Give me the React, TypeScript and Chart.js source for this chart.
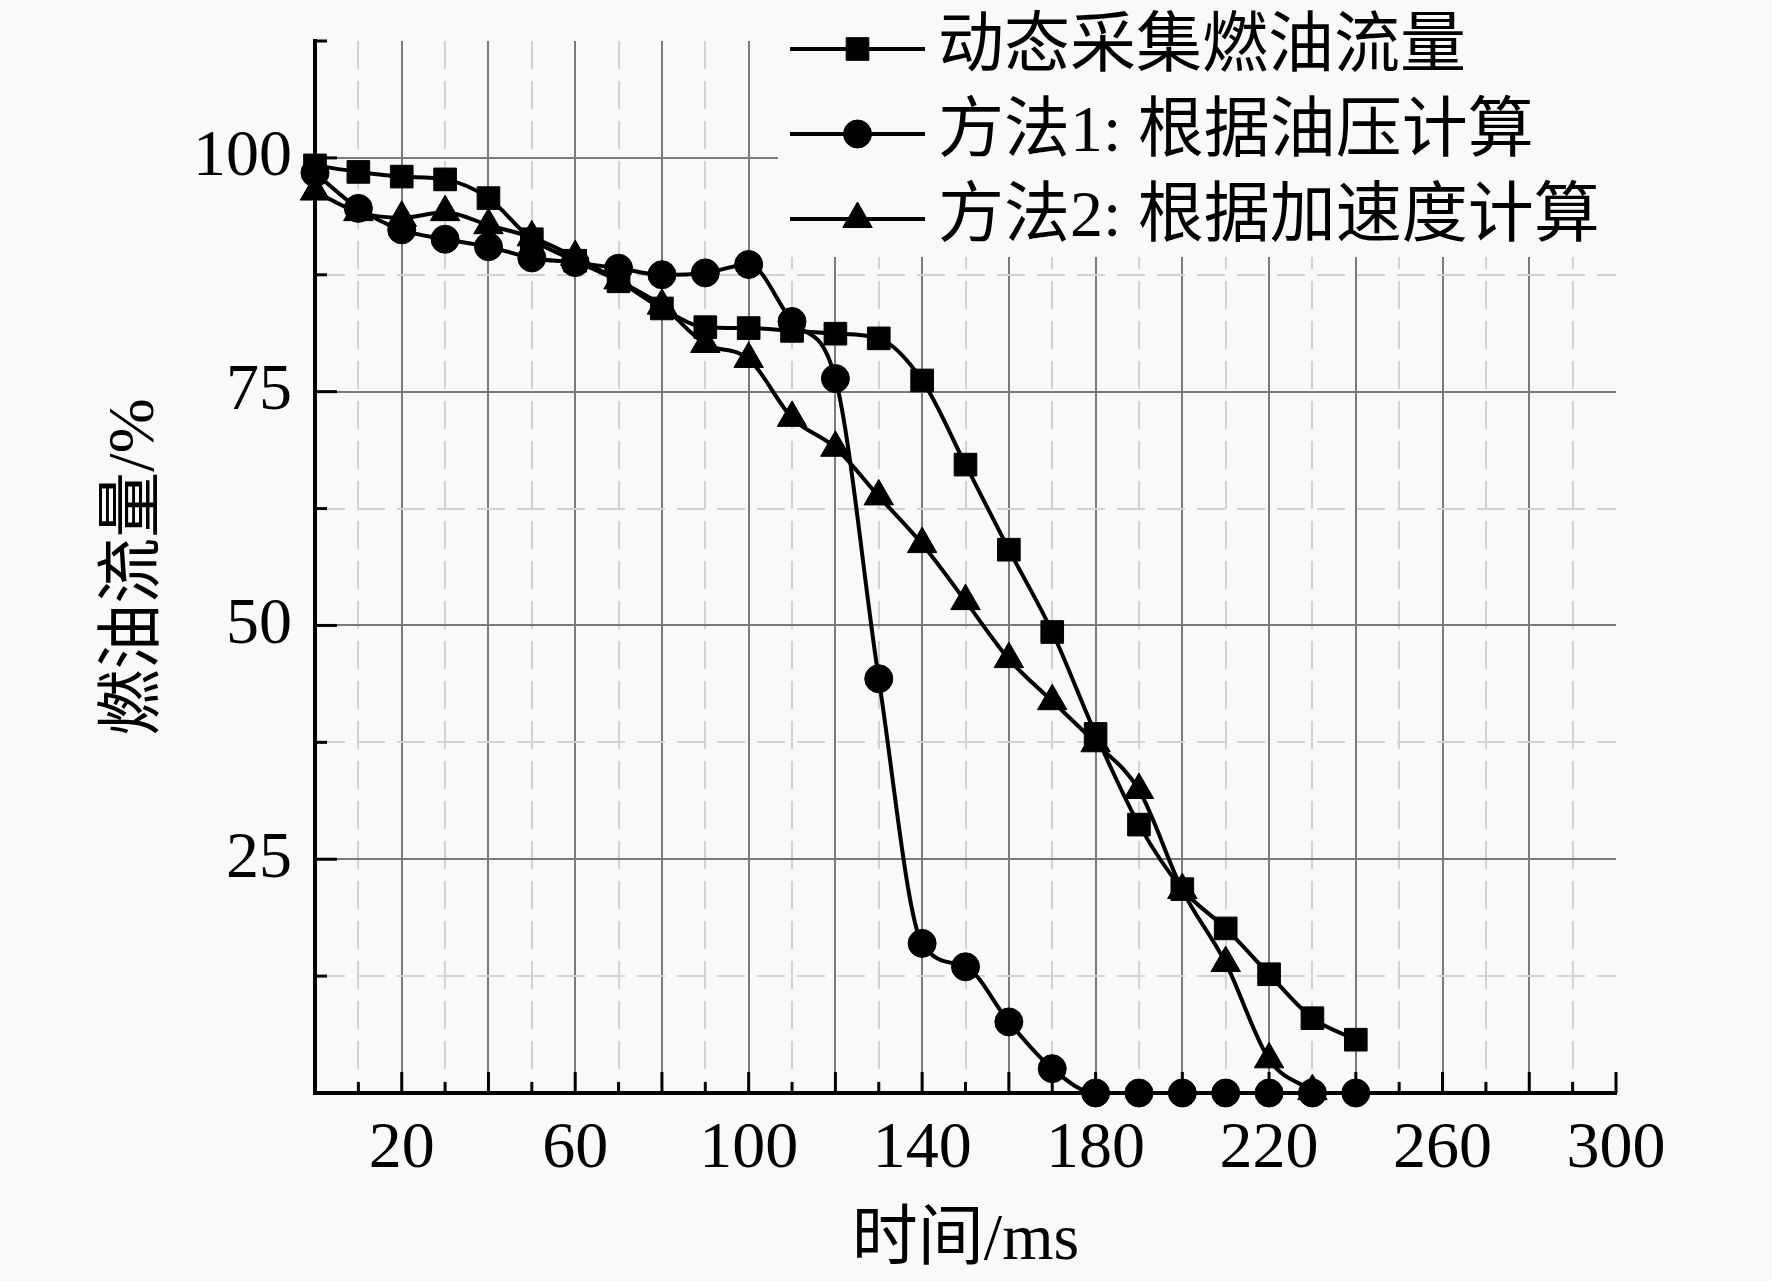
import { useEffect, useRef } from 'react';
import { Chart, registerables, Plugin, ChartConfiguration } from 'chart.js';
import { drawPoint } from 'chart.js/helpers';

Chart.register(...registerables);

// time axis (ms)
const times = [0, 10, 20, 30, 40, 50, 60, 70, 80, 90, 100, 110, 120, 130, 140, 150, 160, 170, 180, 190, 200, 210, 220, 230, 240];

// fuel flow, % of max
const measuredFlow = [99.2, 98.5, 98.0, 97.7, 95.7, 91.3, 89.0, 86.8, 83.9, 81.9, 81.8, 81.5, 81.2, 80.7, 76.2, 67.2, 58.1, 49.3, 38.4, 28.7, 21.8, 17.6, 12.7, 8.0, 5.7];
const method1Flow = [98.4, 94.6, 92.3, 91.3, 90.5, 89.3, 88.8, 88.2, 87.5, 87.7, 88.6, 82.5, 76.4, 44.3, 16.0, 13.5, 7.6, 2.6, 0, 0, 0, 0, 0, 0, 0];
const method2Flow = [96.4, 94.2, 93.6, 94.2, 92.8, 91.5, 89.4, 86.9, 84.2, 80.1, 78.5, 72.2, 69.0, 63.8, 58.7, 52.6, 46.4, 41.9, 37.4, 32.4, 21.7, 13.9, 3.6, 0.2];

const seriesLabels = ['动态采集燃油流量', '方法1: 根据油压计算', '方法2: 根据加速度计算'];

const FONT = '"Liberation Serif", "Noto Sans CJK SC", serif';
const BG = '#f9f9f9';

const isMajorX = (v: number) => v % 20 === 0;
const isMajorY = (v: number) => v % 25 === 0;

const toPoints = (values: number[]) => values.map((y, i) => ({ x: times[i], y }));

// Origin-style tick marks pointing into the plot
const insideTicks: Plugin = {
  id: 'insideTicks',
  beforeDatasetsDraw(chart) {
    const { ctx, chartArea, scales } = chart;
    ctx.save();
    ctx.strokeStyle = '#000';
    ctx.lineWidth = 3;
    scales.x.ticks.forEach(t => {
      const px = scales.x.getPixelForValue(t.value);
      const len = isMajorX(t.value) ? 21 : 11;
      ctx.beginPath();
      ctx.moveTo(px, chartArea.bottom);
      ctx.lineTo(px, chartArea.bottom - len);
      ctx.stroke();
    });
    scales.y.ticks.forEach(t => {
      const py = scales.y.getPixelForValue(t.value);
      const len = isMajorY(t.value) ? 22 : 12;
      ctx.beginPath();
      ctx.moveTo(chartArea.left, py);
      ctx.lineTo(chartArea.left + len, py);
      ctx.stroke();
    });
    ctx.restore();
  },
};

// legend box with line-symbol-line samples, painted over the grid
const boxLegend: Plugin = {
  id: 'boxLegend',
  beforeDatasetsDraw(chart, _args, opts: any) {
    const { ctx } = chart;
    ctx.save();
    ctx.fillStyle = BG;
    ctx.fillRect(opts.left, 0, chart.width - opts.left, opts.bottom);
    chart.data.datasets.forEach((ds: any, i) => {
      const y = opts.top + i * opts.rowHeight;
      ctx.strokeStyle = '#000';
      ctx.lineWidth = 4;
      ctx.beginPath();
      ctx.moveTo(opts.lineX, y);
      ctx.lineTo(opts.lineX + opts.lineLen, y);
      ctx.stroke();
      ctx.fillStyle = '#000';
      ctx.lineWidth = 1;
      drawPoint(ctx, { pointStyle: ds.pointStyle, radius: ds.pointRadius, borderWidth: 1, rotation: 0 }, opts.lineX + opts.lineLen / 2, y);
      ctx.font = `66px ${FONT}`;
      ctx.textBaseline = 'middle';
      ctx.textAlign = 'left';
      ctx.fillText(ds.label, opts.lineX + opts.lineLen + opts.gap, y);
    });
    ctx.restore();
  },
};

export default function App() {
  const canvasRef = useRef<HTMLCanvasElement>(null);

  useEffect(() => {
    if (!canvasRef.current) return;

    const common = {
      borderColor: '#000',
      borderWidth: 4,
      backgroundColor: '#000',
      pointBackgroundColor: '#000',
      pointBorderColor: '#000',
      pointBorderWidth: 1,
      cubicInterpolationMode: 'monotone' as const,
      clip: false as const,
    };

    const config: ChartConfiguration<'line'> = {
      type: 'line',
      data: {
        datasets: [
          { ...common, label: seriesLabels[0], data: toPoints(measuredFlow), pointStyle: 'rect', pointRadius: 16 },
          { ...common, label: seriesLabels[1], data: toPoints(method1Flow), pointStyle: 'circle', pointRadius: 14 },
          { ...common, label: seriesLabels[2], data: toPoints(method2Flow), pointStyle: 'triangle', pointRadius: 17 },
        ],
      },
      options: {
        responsive: true,
        maintainAspectRatio: false,
        animation: false,
        layout: { padding: { top: 41, right: 156, left: 0, bottom: 0 } },
        plugins: {
          legend: { display: false },
          tooltip: { enabled: false },
          boxLegend: { left: 778, bottom: 257, top: 49, rowHeight: 85, lineX: 790, lineLen: 135, gap: 13 },
        } as any,
        scales: {
          x: {
            type: 'linear',
            min: 0,
            max: 300,
            afterFit: (s: any) => { s.height = 188; s.paddingRight = 0; s.paddingLeft = 0; },
            ticks: {
              stepSize: 10,
              autoSkip: false,
              maxRotation: 0,
              padding: 17,
              color: '#000',
              font: { family: FONT, size: 66 },
              callback: v => (Number(v) % 40 === 20 ? String(v) : ''),
            },
            grid: {
              drawTicks: false,
              color: c => (c.tick && (c.tick.value === 0 || c.tick.value === 300) ? 'rgba(0,0,0,0)' : c.tick && isMajorX(c.tick.value) ? '#7a7a7a' : '#d2d2d2'),
              lineWidth: 2,
            },
            border: {
              color: '#000',
              width: 4,
              dash: (c: any) => (c.tick && !isMajorX(c.tick.value) ? [28, 12] : []),
            },
            title: {
              display: true,
              text: '时间/ms',
              color: '#000',
              font: { family: FONT, size: 66 },
              padding: { top: 0, bottom: 0 },
            },
          },
          y: {
            type: 'linear',
            min: 0,
            max: 112.5,
            afterFit: (s: any) => { s.width = 315; s.paddingTop = 0; s.paddingBottom = 0; },
            ticks: {
              stepSize: 12.5,
              autoSkip: false,
              padding: 23,
              color: '#000',
              font: { family: FONT, size: 66 },
              callback: v => (Number(v) > 0 && isMajorY(Number(v)) ? String(v) : ''),
            },
            grid: {
              drawTicks: false,
              color: c => (c.tick && (c.tick.value === 0 || c.tick.value === 112.5) ? 'rgba(0,0,0,0)' : c.tick && isMajorY(c.tick.value) ? '#7a7a7a' : '#d2d2d2'),
              lineWidth: 2,
            },
            border: {
              color: '#000',
              width: 4,
              dash: (c: any) => (c.tick && !isMajorY(c.tick.value) ? [28, 12] : []),
            },
            title: {
              display: true,
              text: '燃油流量/%',
              color: '#000',
              font: { family: FONT, size: 66 },
              padding: { top: 96, bottom: 0 },
            },
          },
        },
      },
      plugins: [boxLegend, insideTicks],
    };

    const chart = new Chart(canvasRef.current, config);
    return () => {
      chart.destroy();
    };
  }, []);

  return (
    <div style={{ position: 'fixed', left: 0, top: 0, width: 1772, height: 1281, background: BG }}>
      <canvas ref={canvasRef} />
    </div>
  );
}
